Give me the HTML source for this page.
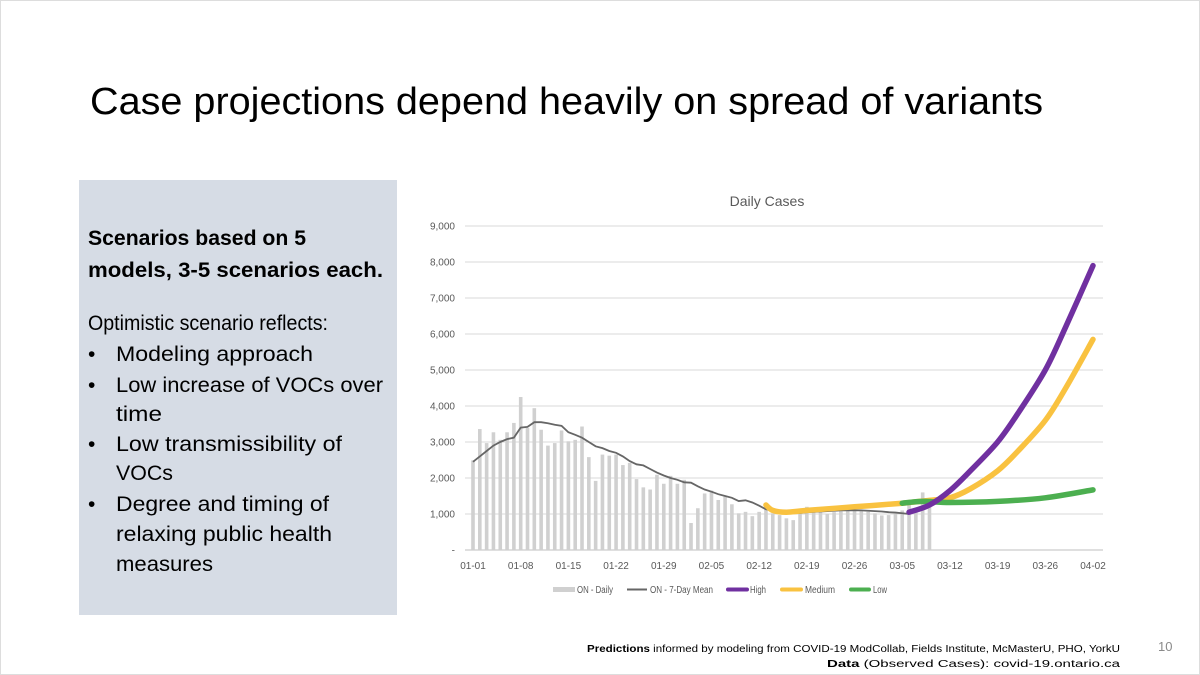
<!DOCTYPE html>
<html><head><meta charset="utf-8"><style>
html,body{margin:0;padding:0;background:#fff;}
svg{display:block;font-family:"Liberation Sans",sans-serif;}
</style></head><body>
<svg id="s" width="1200" height="675" viewBox="0 0 1200 675">
<rect x="0.5" y="0.5" width="1199" height="674" fill="#fff" stroke="#ddd"/>
<text x="90" y="114" font-size="38" fill="#000" textLength="953" lengthAdjust="spacingAndGlyphs">Case projections depend heavily on spread of variants</text>
<rect x="79" y="180" width="318" height="435" fill="#d6dce5"/>
<g font-size="21" fill="#000">
<text x="88" y="245" font-weight="bold" textLength="218" lengthAdjust="spacingAndGlyphs">Scenarios based on 5</text>
<text x="88" y="277" font-weight="bold" textLength="295" lengthAdjust="spacingAndGlyphs">models, 3-5 scenarios each.</text>
<text x="88" y="330" textLength="240" lengthAdjust="spacingAndGlyphs">Optimistic scenario reflects:</text>
<text x="88" y="361">•</text><text x="116" y="361" textLength="197" lengthAdjust="spacingAndGlyphs">Modeling approach</text>
<text x="88" y="392">•</text><text x="116" y="392" textLength="267" lengthAdjust="spacingAndGlyphs">Low increase of VOCs over</text>
<text x="116" y="421" textLength="46" lengthAdjust="spacingAndGlyphs">time</text>
<text x="88" y="451">•</text><text x="116" y="451" textLength="226" lengthAdjust="spacingAndGlyphs">Low transmissibility of</text>
<text x="116" y="480" textLength="57" lengthAdjust="spacingAndGlyphs">VOCs</text>
<text x="88" y="511">•</text><text x="116" y="511" textLength="213" lengthAdjust="spacingAndGlyphs">Degree and timing of</text>
<text x="116" y="541" textLength="216" lengthAdjust="spacingAndGlyphs">relaxing public health</text>
<text x="116" y="571" textLength="97" lengthAdjust="spacingAndGlyphs">measures</text>
</g>
<text x="767" y="206" font-size="14" fill="#595959" text-anchor="middle">Daily Cases</text>
<g id="grid"></g><g id="bars"></g><g id="lines"></g><g id="axes"></g>
<g font-size="10" fill="#595959">
<rect x="553" y="587" width="22" height="5" fill="#d0d0d0"/><text x="577" y="593" textLength="36" lengthAdjust="spacingAndGlyphs">ON - Daily</text>
<line x1="627" y1="589.5" x2="647" y2="589.5" stroke="#666" stroke-width="2"/><text x="650" y="593" textLength="63" lengthAdjust="spacingAndGlyphs">ON - 7-Day Mean</text>
<line x1="728" y1="589.5" x2="747" y2="589.5" stroke="#7030a0" stroke-width="4" stroke-linecap="round"/><text x="750" y="593" textLength="16" lengthAdjust="spacingAndGlyphs">High</text>
<line x1="782" y1="589.5" x2="801" y2="589.5" stroke="#f9c240" stroke-width="4" stroke-linecap="round"/><text x="805" y="593" textLength="30" lengthAdjust="spacingAndGlyphs">Medium</text>
<line x1="851" y1="589.5" x2="869" y2="589.5" stroke="#4caf50" stroke-width="4" stroke-linecap="round"/><text x="873" y="593" textLength="14" lengthAdjust="spacingAndGlyphs">Low</text>
</g>
<g font-size="10" fill="#000">
<text x="587" y="652" textLength="533" lengthAdjust="spacingAndGlyphs"><tspan font-weight="bold">Predictions</tspan> informed by modeling from COVID-19 ModCollab, Fields Institute, McMasterU, PHO, YorkU</text>
<text x="827" y="667" textLength="293" lengthAdjust="spacingAndGlyphs"><tspan font-weight="bold">Data</tspan> (Observed Cases): covid-19.ontario.ca</text>
</g>
<text x="1158" y="651" font-size="13" fill="#8a8a8a">10</text>
</svg>
<script>
const yTicks=[0,1000,2000,3000,4000,5000,6000,7000,8000,9000];
const xTickLabels=["01-01","01-08","01-15","01-22","01-29","02-05","02-12","02-19","02-26","03-05","03-12","03-19","03-26","04-02"];
// daily cases (thousands) starting 01-01
const daily=[2.49,3.36,2.97,3.27,3.06,3.27,3.53,4.25,3.39,3.94,3.34,2.9,2.97,3.32,3.02,3.06,3.43,2.58,1.92,2.65,2.62,2.65,2.36,2.42,1.97,1.74,1.68,2.09,1.84,2.06,1.84,1.95,0.75,1.16,1.57,1.65,1.39,1.48,1.27,1.02,1.06,0.94,1.06,1.3,1.02,0.97,0.88,0.83,1.02,1.2,1.11,1.05,1.0,1.05,1.08,1.1,1.1,1.1,1.06,1.02,0.96,0.97,1.0,1.1,1.25,1.06,1.6,1.3];
// 7-day mean starting 01-01
const mean7=[2.45,2.6,2.75,2.9,3.0,3.08,3.12,3.4,3.42,3.55,3.55,3.52,3.48,3.45,3.27,3.2,3.12,3.0,2.88,2.83,2.75,2.7,2.6,2.47,2.38,2.35,2.25,2.15,2.07,2.0,1.95,1.88,1.87,1.77,1.68,1.62,1.55,1.5,1.45,1.36,1.38,1.32,1.23,1.13,1.1,1.06,1.04,1.03,1.03,1.05,1.06,1.07,1.08,1.09,1.1,1.1,1.1,1.1,1.09,1.08,1.07,1.05,1.04,1.02,1.0];
// projections: [day index from 01-01, value in thousands]
const highDays=[64,67,70,73,77,80,84,87,91];
const highVals=[1.05,1.25,1.65,2.2,3.0,3.8,5.0,6.2,7.9];
const medDays=[43,44,46,49,56,63,67,70,73,77,80,84,87,91];
const medVals=[1.25,1.1,1.05,1.1,1.2,1.3,1.38,1.45,1.7,2.2,2.75,3.6,4.5,5.85];
const lowDays=[63,66,70,77,84,91];
const lowVals=[1.3,1.35,1.32,1.35,1.45,1.67];

const NS="http://www.w3.org/2000/svg";
const x0=473,pxDay=620/91,yBase=550,pxK=36;
const X=d=>x0+d*pxDay, Y=v=>yBase-v*pxK;
function mk(tag,attrs,parent){const e=document.createElementNS(NS,tag);for(const k in attrs)e.setAttribute(k,attrs[k]);parent.appendChild(e);return e;}
const grid=document.getElementById('grid'),axes=document.getElementById('axes'),bars=document.getElementById('bars'),lines=document.getElementById('lines');
yTicks.forEach(t=>{
  const y=Y(t/1000);
  const l=mk('line',{x1:465,x2:1103,y1:y,y2:y,stroke:t?'#d9d9d9':'#bfbfbf','stroke-width':1},grid);
  
  
  const tx=mk('text',{x:455,y:y+3.5,'font-size':10,fill:'#595959','text-anchor':'end'},axes);
  tx.textContent=t?t.toLocaleString('en-US'):'-';
  
  
});
xTickLabels.forEach((s,i)=>{
  const tx=mk('text',{x:X(i*7),y:569,'font-size':10,fill:'#595959','text-anchor':'middle'},axes);
  tx.textContent=s;
  
  
});
daily.forEach((v,i)=>{
  const r=mk('rect',{x:X(i)-1.8,y:Y(v),width:3.6,height:v*pxK,fill:'#d0d0d0'},bars);
  
  
});
function smooth(pts){let d='M'+pts[0][0]+','+pts[0][1];for(let i=0;i<pts.length-1;i++){const p0=pts[i-1]||pts[i],p1=pts[i],p2=pts[i+1],p3=pts[i+2]||p2;d+=' C'+(p1[0]+(p2[0]-p0[0])/6)+','+(p1[1]+(p2[1]-p0[1])/6)+' '+(p2[0]-(p3[0]-p1[0])/6)+','+(p2[1]-(p3[1]-p1[1])/6)+' '+p2[0]+','+p2[1];}return d;}
const mp=mk('path',{d:'M'+mean7.map((v,i)=>X(i)+','+Y(v)).join(' L'),fill:'none',stroke:'#666','stroke-width':1.8},lines);


[[medDays,medVals,'#f9c240','line-medium'],[lowDays,lowVals,'#4caf50','line-low'],[highDays,highVals,'#7030a0','line-high']].forEach(([ds,vs,c,n])=>{
  const p=mk('path',{d:smooth(ds.map((d,i)=>[X(d),Y(vs[i])])),fill:'none',stroke:c,'stroke-width':5.5,'stroke-linecap':'round'},lines);
  
  
});
</script>
</body></html>
